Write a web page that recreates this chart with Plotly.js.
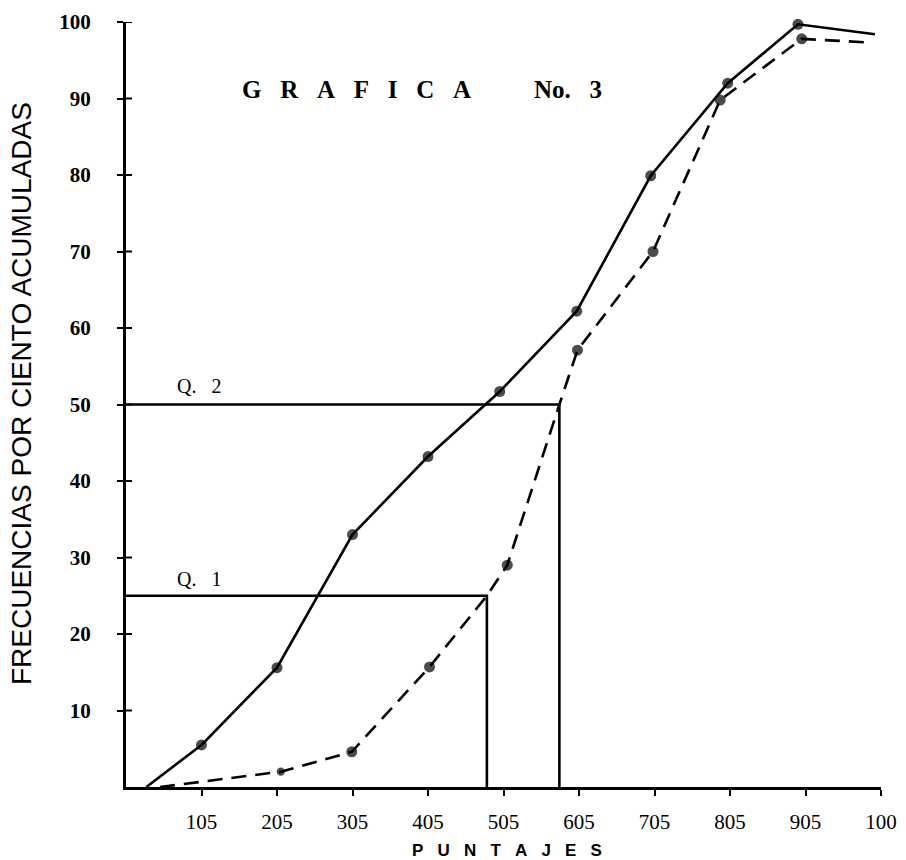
<!DOCTYPE html>
<html><head><meta charset="utf-8">
<script src="https://cdn.plot.ly/plotly-3.0.1.min.js"></script>
<style>html,body{margin:0;padding:0;background:#fff}</style>
</head><body><div id="chart" style="width:906px;height:860px"></div>
<script>
// Tick labels
const xTickVals = [105, 205, 305, 405, 505, 605, 705, 805, 905, 1005];
const xTickText = ['105', '205', '305', '405', '505', '605', '705', '805', '905', '100'];
const yTickVals = [10, 20, 30, 40, 50, 60, 70, 80, 90, 100];

// Solid ogive (first and last points have no dot)
const solidX = [32, 105, 205, 305, 405, 500, 602, 700, 802, 895, 997];
const solidY = [0, 5.5, 15.6, 33.0, 43.2, 51.7, 62.2, 79.9, 92.0, 99.7, 98.4];
const solidDot = [0, 1, 1, 1, 1, 1, 1, 1, 1, 1, 0];

// Dashed ogive (passes through the quartile corners)
const dashX = [50, 210, 304, 407, 483, 510, 579, 603, 703, 792, 900, 993];
const dashY = [0, 2.0, 4.6, 15.7, 25, 29.0, 50, 57.1, 70.0, 89.8, 97.8, 97.3];
const dashDot = [0, 0.75, 1, 1, 0, 1, 0, 1, 1, 1, 1, 0];

// Quartile guides
const q1X = 483, q1Y = 25;
const q2X = 579, q2Y = 50;

const ML = 126, MR = 25, MT = 22, MB = 73, W = 906, H = 860;
const PW = W - ML - MR, PH = H - MT - MB;
const px = v => (v - ML) / PW;
const py = v => (H - MB - v) / PH;

const serif = 'Liberation Serif, Times New Roman, serif';
const sans = 'Liberation Sans, Arial, sans-serif';
const sp = n => '\u00a0'.repeat(n);
const spaced = (s, n) => s.split('').join(sp(n));

const traces = [
  {x: [5, q1X, q1X], y: [q1Y, q1Y, 0], mode: 'lines', line: {color: '#000', width: 2.6}, hoverinfo: 'skip'},
  {x: [5, q2X, q2X], y: [q2Y, q2Y, 0], mode: 'lines', line: {color: '#000', width: 2.6}, hoverinfo: 'skip'},
  {x: dashX, y: dashY, mode: 'lines+markers', line: {color: '#000', width: 2.6, dash: '15px,9px'},
   marker: {color: '#000', size: dashDot.map(d => d * 11), line: {width: 0}}, cliponaxis: false},
  {x: solidX, y: solidY, mode: 'lines+markers', line: {color: '#000', width: 2.6},
   marker: {color: '#000', size: solidDot.map(d => d * 11), line: {width: 0}}, cliponaxis: false}
];

// inner half of the y ticks (ticks cross the axis in the original)
const innerTicks = yTickVals.map(v => ({
  type: 'line', xref: 'paper', yref: 'y', x0: 0, x1: 6 / PW, y0: v, y1: v,
  line: {color: '#000', width: 2}
}));

const layout = {
  width: W, height: H,
  margin: {l: ML, r: MR, t: MT, b: MB},
  paper_bgcolor: '#fff', plot_bgcolor: '#fff',
  showlegend: false,
  shapes: innerTicks,
  xaxis: {
    range: [5, 1005], tickvals: xTickVals, ticktext: xTickText,
    showline: true, linecolor: '#000', linewidth: 2.5,
    ticks: 'outside', ticklen: 6, tickwidth: 2, tickcolor: '#000',
    ticklabelstandoff: 8,
    tickfont: {family: serif, size: 21, color: '#000'},
    showgrid: false, zeroline: false
  },
  yaxis: {
    range: [0, 100], tickvals: yTickVals,
    showline: true, linecolor: '#000', linewidth: 3,
    ticks: 'outside', ticklen: 6, tickwidth: 2, tickcolor: '#000',
    ticklabelstandoff: 22,
    tickfont: {family: serif, size: 21, color: '#000', weight: 'bold'},
    showgrid: false, zeroline: false
  },
  annotations: [
    {text: spaced('GRAFICA', 3),
     xref: 'paper', yref: 'paper', x: px(240), y: py(89), xanchor: 'left', yanchor: 'middle',
     showarrow: false, font: {family: serif, size: 25, color: '#000', weight: 'bold'}},
    {text: 'No.' + sp(3) + '3', xref: 'paper', yref: 'paper', x: px(532), y: py(89), xanchor: 'left', yanchor: 'middle',
     showarrow: false, font: {family: serif, size: 25, color: '#000', weight: 'bold'}},
    {text: 'FRECUENCIAS POR CIENTO ACUMULADAS', textangle: -90,
     xref: 'paper', yref: 'paper', x: px(21), y: py(394), xanchor: 'center', yanchor: 'middle',
     showarrow: false, font: {family: sans, size: 28, color: '#000'}},
    {text: spaced('PUNTAJES', 3),
     xref: 'paper', yref: 'paper', x: px(507), y: py(851), xanchor: 'center', yanchor: 'middle',
     showarrow: false, font: {family: sans, size: 17, color: '#000', weight: 'bold'}},
    {text: 'Q.' + sp(3) + '2', xref: 'x', yref: 'y', x: 102, y: 52.4, xanchor: 'center', yanchor: 'middle',
     showarrow: false, font: {family: serif, size: 20, color: '#000'}},
    {text: 'Q.' + sp(3) + '1', xref: 'x', yref: 'y', x: 102, y: 27.2, xanchor: 'center', yanchor: 'middle',
     showarrow: false, font: {family: serif, size: 20, color: '#000'}}
  ]
};

Plotly.newPlot('chart', traces, layout, {displayModeBar: false, staticPlot: true});
</script>
</body></html>
